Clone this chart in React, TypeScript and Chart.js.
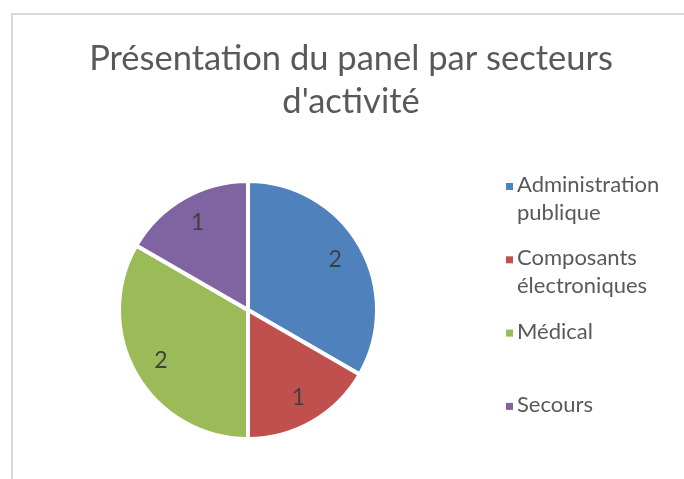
import React, { useEffect, useRef } from "react";
import { Chart, registerables } from "chart.js";

Chart.register(...registerables);

const categories = ["Administration publique", "Composants électroniques", "Médical", "Secours"];
const values = [2, 1, 2, 1];
const colors = ["#4F81BD", "#C0504D", "#9BBB59", "#8064A2"];
const titleLines = ["Présentation du panel par secteurs", "d'activité"];

const FONT = "Lato, 'Open Sans', sans-serif";
const W = 684;
const H = 479;

const framePlugin = {
  id: "frame",
  beforeDraw(chart: any) {
    const ctx = chart.ctx;
    ctx.save();
    ctx.fillStyle = "#ffffff";
    ctx.fillRect(0, 0, chart.width, chart.height);
    ctx.strokeStyle = "#d9d9d9";
    ctx.lineWidth = 2;
    ctx.strokeRect(12, 14, chart.width + 20, chart.height + 20);
    ctx.restore();
  },
};

const titlePlugin = {
  id: "customTitle",
  afterDraw(chart: any) {
    const ctx = chart.ctx;
    ctx.save();
    ctx.font = `34.5px ${FONT}`;
    ctx.fillStyle = "#595959";
    ctx.textAlign = "center";
    ctx.textBaseline = "alphabetic";
    titleLines.forEach((line, i) => ctx.fillText(line, 351, 70 + i * 43));
    ctx.restore();
  },
};

function wrap(ctx: CanvasRenderingContext2D, text: string, maxW: number): string[] {
  const words = text.split(" ");
  const lines: string[] = [];
  let cur = "";
  for (const w of words) {
    const test = cur ? cur + " " + w : w;
    if (cur && ctx.measureText(test).width > maxW) {
      lines.push(cur);
      cur = w;
    } else {
      cur = test;
    }
  }
  if (cur) lines.push(cur);
  return lines;
}

const legendPlugin = {
  id: "customLegend",
  afterDraw(chart: any) {
    const ctx = chart.ctx;
    const labels = chart.data.labels as string[];
    const bg = chart.data.datasets[0].backgroundColor as string[];
    ctx.save();
    ctx.font = `22px ${FONT}`;
    ctx.textAlign = "left";
    ctx.textBaseline = "alphabetic";
    labels.forEach((lab, i) => {
      const y0 = 192 + i * 73.3;
      ctx.fillStyle = bg[i];
      ctx.fillRect(506, y0 - 9, 7, 7);
      ctx.fillStyle = "#595959";
      wrap(ctx, lab, 160).forEach((line, j) => ctx.fillText(line, 517, y0 + j * 28));
    });
    ctx.restore();
  },
};

const dataLabelPlugin = {
  id: "dataLabels",
  afterDatasetsDraw(chart: any) {
    const ctx = chart.ctx;
    const meta = chart.getDatasetMeta(0);
    const data = chart.data.datasets[0].data as number[];
    ctx.save();
    ctx.font = `23px ${FONT}`;
    ctx.fillStyle = "#404040";
    ctx.textAlign = "center";
    ctx.textBaseline = "middle";
    meta.data.forEach((arc: any, i: number) => {
      const p = arc.getProps(["x", "y", "startAngle", "endAngle", "outerRadius"], true);
      const mid = (p.startAngle + p.endAngle) / 2;
      const r = p.outerRadius * 0.78;
      ctx.fillText(String(data[i]), p.x + Math.cos(mid) * r, p.y + Math.sin(mid) * r);
    });
    ctx.restore();
  },
};

export default function App() {
  const ref = useRef<HTMLCanvasElement | null>(null);
  useEffect(() => {
    if (!ref.current) return;
    const chart = new Chart(ref.current, {
      type: "pie",
      data: {
        labels: categories,
        datasets: [
          {
            data: values,
            backgroundColor: colors,
            borderColor: "#ffffff",
            borderWidth: 4,
            radius: 129,
          } as any,
        ],
      },
      options: {
        responsive: false,
        animation: false,
        devicePixelRatio: 1,
        layout: { padding: { left: 0, right: 188, top: 141, bottom: 0 } },
        plugins: {
          legend: { display: false },
          title: { display: false },
          tooltip: { enabled: false },
        },
      } as any,
      plugins: [framePlugin, titlePlugin, legendPlugin, dataLabelPlugin],
    });
    return () => chart.destroy();
  }, []);
  return (
    <div style={{ position: "fixed", left: 0, top: 0, width: W, height: H, background: "#fff" }}>
      <canvas ref={ref} width={W} height={H} style={{ display: "block", width: W, height: H }} />
    </div>
  );
}
